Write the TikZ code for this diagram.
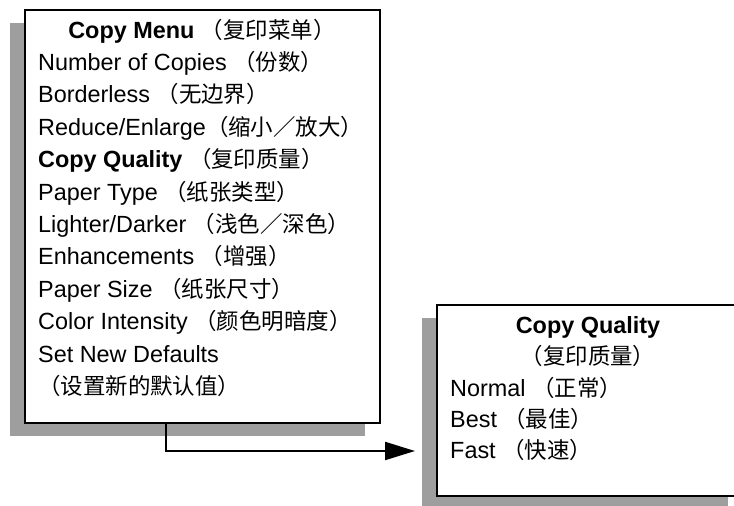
\documentclass[tikz,border=0pt]{standalone}
\usepackage{fontspec}
\setmainfont{Liberation Sans}
\newfontfamily\cjk[Scale=0.96]{Noto Sans CJK SC}
\usetikzlibrary{arrows.meta,shadows}
\definecolor{shadowgray}{HTML}{9E9E9E}
\newcommand{\zh}[1]{{\cjk #1}}

\tikzset{
	menubox/.style={draw, line width=2.5pt, fill=white, inner sep=0pt, outer sep=0pt, anchor=north west,
		general shadow={fill=shadowgray, shadow xshift=-15pt, shadow yshift=-13pt}},
	entry/.style={anchor=base west, inner sep=0pt, font=\fontsize{23.4}{28}\selectfont},
	heading/.style={entry, anchor=base},
	flowarrow/.style={line width=2.2pt, -{Triangle[length=30pt,width=18pt]}}
}

\begin{document}
\begin{tikzpicture}[x=1pt,y=-1pt]
	\useasboundingbox (0,0) rectangle (734,506);
	\clip (0,0) rectangle (734,506);
	
	\node[menubox, minimum width=355pt, minimum height=413pt] (copymenu) at (25,10) {};
	\node[menubox, minimum width=306pt, minimum height=191pt] (qualitymenu) at (437,305) {};
	
	\node[heading] (menutitle) at (202,38) {\textbf{Copy Menu} \zh{（复印菜单）}};
	\node[entry] (copies) at (38,70.4) {Number of Copies \zh{（份数）}};
	\node[entry] (borderless) at (38,102.8) {Borderless \zh{（无边界）}};
	\node[entry] (resize) at (38,135.2) {Reduce/Enlarge\zh{（缩小／放大）}};
	\node[entry] (quality) at (38,167.6) {\textbf{Copy Quality} \zh{（复印质量）}};
	\node[entry] (papertype) at (38,200) {Paper Type \zh{（纸张类型）}};
	\node[entry] (lightdark) at (38,232.4) {Lighter/Darker \zh{（浅色／深色）}};
	\node[entry] (enhance) at (38,264.8) {Enhancements \zh{（增强）}};
	\node[entry] (papersize) at (38,297.2) {Paper Size \zh{（纸张尺寸）}};
	\node[entry] (intensity) at (38,329.6) {Color Intensity \zh{（颜色明暗度）}};
	\node[entry] (defaults) at (38,362) {Set New Defaults};
	\node[entry] (defaultszh) at (38,394.4) {\zh{（设置新的默认值）}};
	
	\node[heading] (qualitytitle) at (588,333) {\textbf{Copy Quality}};
	\node[heading] (qualityzh) at (588,364) {\zh{（复印质量）}};
	\node[entry] (normal) at (450,396) {Normal \zh{（正常）}};
	\node[entry] (best) at (450,427) {Best \zh{（最佳）}};
	\node[entry] (fast) at (450,458) {Fast \zh{（快速）}};
	
	\coordinate (elbow) at (166,451);
	\draw[flowarrow, shorten >=22pt] (elbow |- copymenu.south) -- (elbow) -- (qualitymenu.west |- elbow);
\end{tikzpicture}
\end{document}
